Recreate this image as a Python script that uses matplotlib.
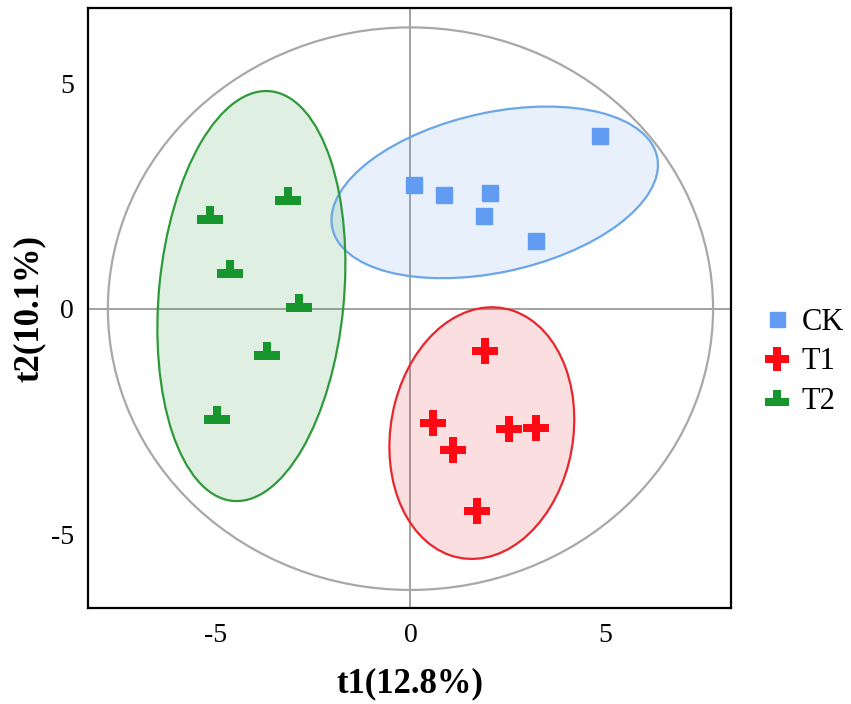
import numpy as np
import matplotlib.pyplot as plt
from matplotlib.patches import Ellipse
from matplotlib.path import Path

plt.rcParams['font.family'] = ['Liberation Serif', 'DejaVu Serif']
plt.rcParams['axes.unicode_minus'] = False

# score values
ck_t1 = [0.08, 0.86, 2.03, 1.89, 3.22, 4.86]
ck_t2 = [2.75, 2.52, 2.57, 2.05, 1.51, 3.82]
t1_t1 = [1.92, 0.57, 1.10, 2.52, 3.22, 1.70]
t1_t2 = [-0.95, -2.53, -3.13, -2.68, -2.65, -4.48]
t2_t1 = [-3.13, -5.13, -4.62, -2.85, -3.68, -4.95]
t2_t2 = [2.49, 2.07, 0.88, 0.12, -0.95, -2.36]

# group ellipses: centre x, centre y, width, height, angle
ck_ell = (2.16, 2.58, 8.48, 3.56, 10.1)
t1_ell = (1.83, -2.76, 5.66, 4.65, 73.3)
t2_ell = (-4.08, 0.28, 9.14, 4.74, 83.5)
# Hotelling T2 ellipse semi axes
hot_a, hot_b = 7.76, 6.24

groups = ['CK', 'T1', 'T2']

# inverted T marker
tee = Path([(-13, -9), (13, -9), (13, 0), (4.5, 0), (4.5, 9), (-4.5, 9),
            (-4.5, 0), (-13, 0), (-13, -9)],
           [Path.MOVETO] + [Path.LINETO] * 7 + [Path.CLOSEPOLY])

fig = plt.figure(figsize=(8.51, 7.04), dpi=100)
ax = fig.add_axes([0.1034, 0.1364, 0.7556, 0.8522])

ax.axhline(0, color='#9a9a9a', lw=1.3, zorder=1)
ax.axvline(0, color='#9a9a9a', lw=1.3, zorder=1)
ax.add_patch(Ellipse((0, 0), 2 * hot_a, 2 * hot_b, fill=False, ec='#a8a8a8', lw=1.6, zorder=1))

ecol = ['#6aa6e8', '#e8262e', '#2e9a3c']
for (cx, cy, w, h, ang), c in zip([ck_ell, t1_ell, t2_ell], ecol):
    ax.add_patch(Ellipse((cx, cy), w, h, angle=ang, fc=c, alpha=0.15, ec='none', zorder=2))
    ax.add_patch(Ellipse((cx, cy), w, h, angle=ang, fill=False, ec=c, lw=1.6, zorder=3))

ax.plot(ck_t1, ck_t2, ls='none', marker='s', ms=12, color='#619cf2', label=groups[0], zorder=4)
ax.plot(t1_t1, t1_t2, ls='none', marker='P', ms=18.5, color='#ff0a14', mew=0, label=groups[1], zorder=4)
ax.plot(t2_t1, t2_t2, ls='none', marker=tee, ms=18.5, color='#17962e', mew=0, label=groups[2], zorder=4)

ax.set_xlim(-8.27, 8.22)
ax.set_ylim(-6.64, 6.67)
ax.set_xticks([-5, 0, 5])
ax.set_yticks([-5, 0, 5])
ax.tick_params(length=0, labelsize=20, colors='black')
ax.tick_params(axis='x', pad=11)
ax.tick_params(axis='y', pad=10)
for s in ax.spines.values():
    s.set_linewidth(1.6)
    s.set_color('black')

ax.set_xlabel('t1(12.8%)', fontsize=25, fontweight='bold', labelpad=14)
ax.set_ylabel('t2(10.1%)', fontsize=25, fontweight='bold', labelpad=4)

ax.legend(loc='center left', bbox_to_anchor=(1.0, 0.41), frameon=False, fontsize=22,
          handlelength=1.0, handletextpad=0.3, labelspacing=0.35, borderaxespad=0.6,
          markerscale=0.9)

fig.savefig('out.png', dpi=100)
